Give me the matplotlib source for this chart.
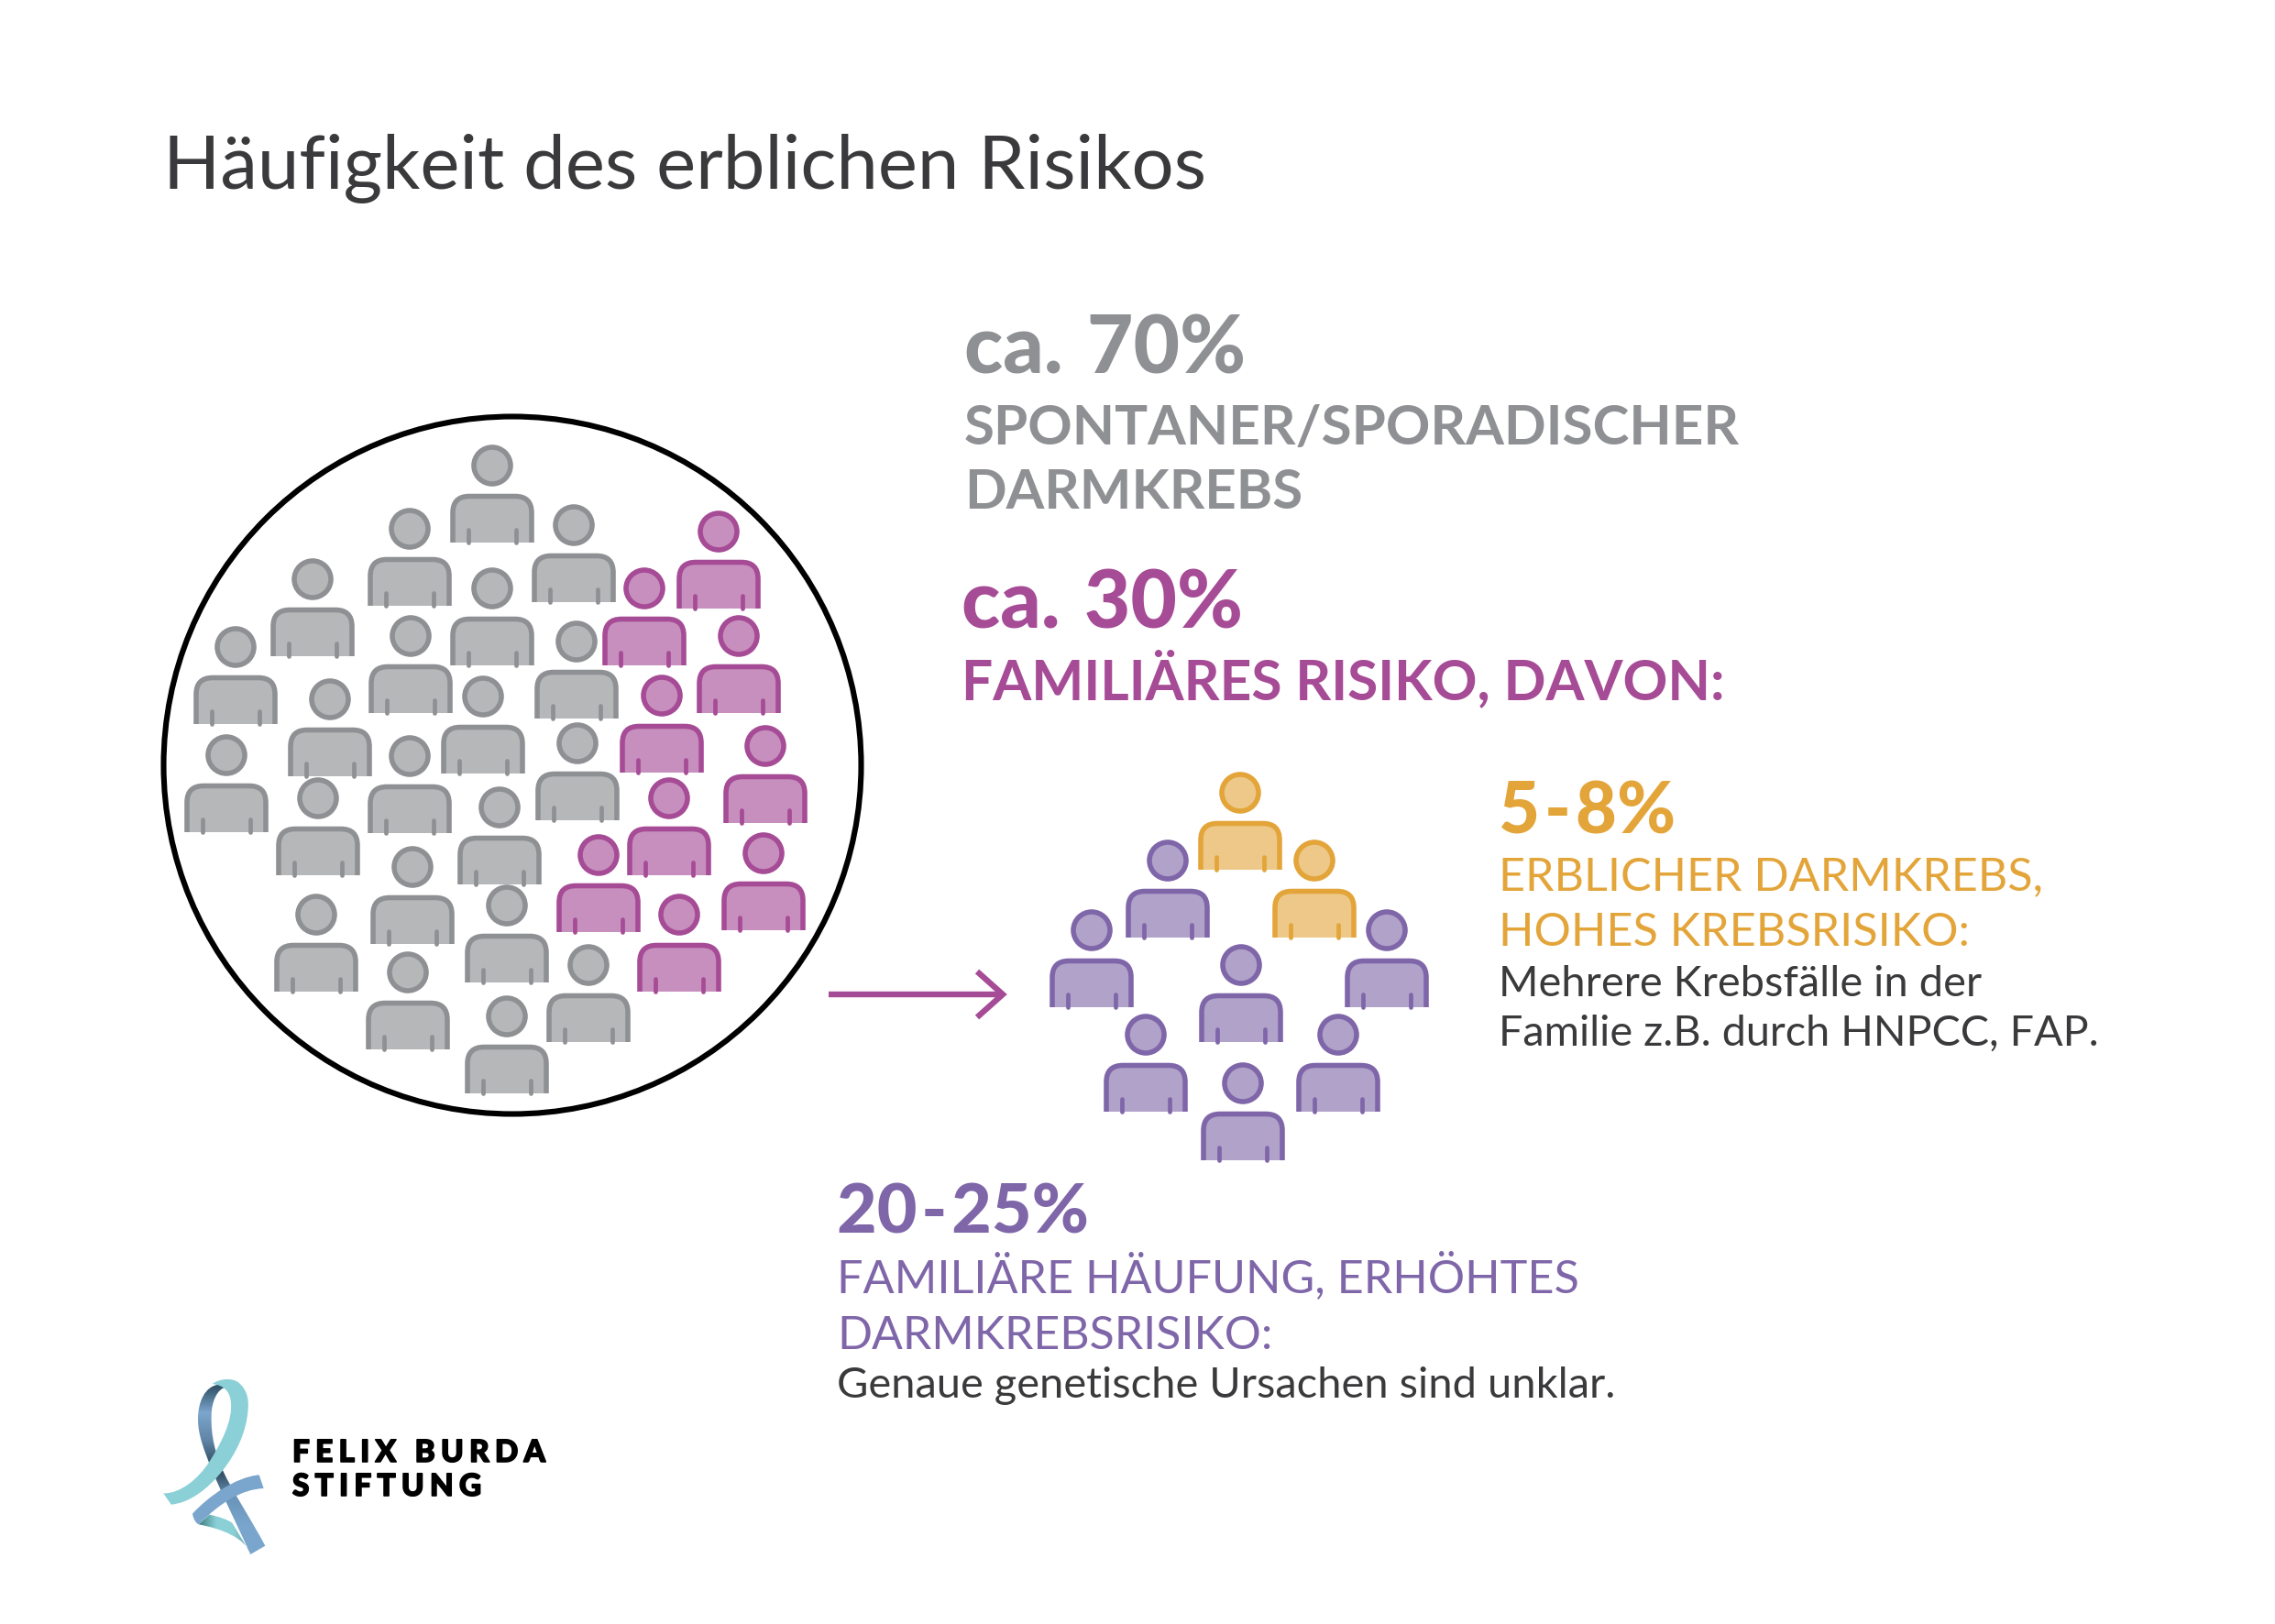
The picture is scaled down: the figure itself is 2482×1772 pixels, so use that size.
import matplotlib
matplotlib.use("Agg")
import matplotlib.pyplot as plt
import matplotlib.patheffects as pe
from matplotlib.patches import Circle, PathPatch
from matplotlib.path import Path
import numpy as np

plt.rcParams['font.family'] = ['Lato', 'DejaVu Sans']

# how many of the 30 people have which colour
n_gray = 21
n_pink = 9
n_orange = 2
n_purple = 7

title = "Häufigkeit des erblichen Risikos"
pct_labels = ["ca.\u200a 70%", "ca.\u200a 30%", "5\u200a-\u200a8%", "20\u200a-\u200a25%"]
head_labels = ["SPONTANER/SPORADISCHER", "DARMKREBS", "FAMILIÄRES RISIKO, DAVON:"]
sub_labels = ["ERBLICHER DARMKREBS,", "HOHES KREBSRISIKO:", "FAMILIÄRE HÄUFUNG, ERHÖHTES", "DARMKREBSRISIKO:"]
body_labels = ["Mehrere Krebsfälle in der", "Familie z.B. durch HNPCC, FAP.", "Genaue genetische Ursachen sind unklar."]
logo_labels = ["FELIX BURDA", "STIFTUNG"]

# head centres in pixels
circle_spots = [(537,508),(447,577),(626,573),(341,632),(537,642),(448,694),(629,700),
                (257,706),(360,763),(527,760),(630,811),(247,824),(447,825),(347,871),
                (545,881),(450,946),(553,988),(345,998),(642,1053),(445,1061),(553,1109),
                (784,580),(703,642),(806,694),(722,759),(835,814),(730,871),(653,933),
                (833,931),(741,998)]
cluster_spots = [(1353,865),(1434,939),(1274,939),(1191,1015),(1513,1015),(1354,1053),
                 (1250,1129),(1460,1129),(1356,1182)]

GRAY = ("#b6b7b9", "#8f9093")
PINK = ("#c78fbe", "#a64b95")
ORANGE = ("#edc888", "#e3a53a")
PURPLE = ("#b1a2ca", "#7f66a9")
DARK = "#3a3a3c"

fig = plt.figure(figsize=(24.82, 17.72), dpi=100)
ax = fig.add_axes([0, 0, 1, 1])
ax.set_xlim(0, 2482)
ax.set_ylim(1772, 0)
ax.axis("off")


def person(x, y, colors):
    fill, edge = colors
    c = 18
    top = y + 33.5
    bot = y + 84
    verts = [(x-43, bot), (x-43, top+c), (x-43, top), (x-43+c, top), (x+43-c, top), (x+43, top), (x+43, top+c), (x+43, bot)]
    codes = [Path.MOVETO, Path.LINETO, Path.CURVE3, Path.CURVE3, Path.LINETO, Path.CURVE3, Path.CURVE3, Path.LINETO]
    ax.add_patch(PathPatch(Path(verts, codes), fc=fill, ec="none", zorder=2))
    ax.add_patch(PathPatch(Path(verts, codes), fc="none", ec=edge, lw=4, capstyle="butt", zorder=3))
    for dx in (-26, 26):
        ax.plot([x+dx, x+dx], [bot, bot-14], color=edge, lw=3.4, solid_capstyle="round", zorder=3)
    ax.add_patch(Circle((x, y), 20, fc=fill, ec=edge, lw=4, zorder=3))


def fit_text(x, y, s, end, size, color, weight="normal"):
    # scale the font so that the line ends where it ends in the picture
    t = ax.text(x, y, s, fontsize=size, color=color, weight=weight, va="baseline", ha="left")
    w = t.get_window_extent(fig.canvas.get_renderer()).width
    t.set_fontsize(size * (end - x) / w)
    return t


def bez(points):
    verts = [points[0]]
    codes = [Path.MOVETO]
    for p in points[1:]:
        verts += [p[:2], p[2:4], p[4:6]] if len(p) == 6 else [p]
        codes += [Path.CURVE4] * 3 if len(p) == 6 else [Path.LINETO]
    verts = [(160 + a / 3, 1480 + b / 3) for a, b in verts]
    verts.append(verts[0])
    codes.append(Path.CLOSEPOLY)
    return Path(verts, codes)


def gradient(path, stops, vertical=True, zorder=2):
    colors = matplotlib.colors.LinearSegmentedColormap.from_list("g", stops)
    xs, ys = path.vertices[:, 0], path.vertices[:, 1]
    g = np.linspace(0, 1, 256)
    g = g[:, None] if vertical else g[None, :]
    im = ax.imshow(g, cmap=colors, extent=(xs.min(), xs.max(), ys.max(), ys.min()), aspect="auto", zorder=zorder)
    im.set_clip_path(PathPatch(path, transform=ax.transData))


# big circle with people
ax.add_patch(Circle((559, 835), 380.5, fc="none", ec="black", lw=4.4, zorder=1))
for i, (x, y) in enumerate(circle_spots):
    person(x, y, GRAY if i < n_gray else PINK)
for i, (x, y) in enumerate(cluster_spots):
    person(x, y, ORANGE if i < n_orange else PURPLE)

# arrow
ax.plot([904, 1094], [1085, 1085], color=PINK[1], lw=4.6, solid_capstyle="butt", zorder=2)
ax.plot([1066, 1094, 1066], [1060, 1085, 1110], color=PINK[1], lw=4.6, solid_joinstyle="miter", solid_capstyle="butt", zorder=2)

# texts
fit_text(178, 206, title, 1316, 54, DARK)
fit_text(1052, 407, pct_labels[0], 1359, 58, GRAY[1], "black")
fit_text(1052, 485, head_labels[0], 1898, 40, GRAY[1], "bold")
fit_text(1052, 555, head_labels[1], 1421, 40, GRAY[1], "bold")
fit_text(1049, 686, pct_labels[1], 1356, 58, PINK[1], "black")
fit_text(1049, 763, head_labels[2], 1882, 40, PINK[1], "bold")
fit_text(1635, 909, pct_labels[2], 1828, 52, ORANGE[1], "black")
fit_text(1635, 971, sub_labels[0], 2230, 36, ORANGE[1])
fit_text(1635, 1032, sub_labels[1], 2150, 36, ORANGE[1])
fit_text(1635, 1087, body_labels[0], 2164, 34, DARK)
fit_text(1635, 1141, body_labels[1], 2291, 34, DARK)
fit_text(913, 1346, pct_labels[3], 1188, 52, PURPLE[1], "black")
fit_text(913, 1410, sub_labels[2], 1725, 36, PURPLE[1])
fit_text(913, 1472, sub_labels[3], 1388, 36, PURPLE[1])
fit_text(913, 1525, body_labels[2], 1763, 34, DARK)

# logo ribbon, numbers are in zoomed logo units
small = bez([(170,550),(205,518),(240,525,265,535,280,545),(340,645),(320,595,250,565,170,550)])
dark = bez([(240,92),(190,95,168,150,168,205),(168,260,190,310,205,350),(240,440,300,560,340,648),
            (388,620),(340,530,280,440,250,375),(225,320,210,260,212,195),(212,150,230,105,262,100)])
teal = bez([(55,448),(110,450,170,400,205,345),(240,290,285,210,275,145),(270,110,250,95,215,90),
            (240,72,280,70,300,85),(325,105,335,135,332,170),(328,250,290,320,250,372),(200,435,140,480,80,485)])
strap = bez([(150,515),(200,460,290,395,368,388),(383,432),(310,435,240,480,170,550),(160,545,152,530,150,515)])
gradient(small, ["#3d7f82", "#8ad0d6", "#8ad0d6", "#5f9aa0"], vertical=False, zorder=2)
gradient(dark, ["#2b4a5e", "#7ba6cd", "#5f84a5", "#2a4456", "#6a94b8", "#7aa5cd", "#7aa5cd"], zorder=3)
ax.add_patch(PathPatch(teal, fc="#8ad0d6", ec="none", zorder=4))
ax.add_patch(PathPatch(strap, fc="#7aa5cd", ec="none", zorder=5))

# letter spaced logo text
gap = "\u2009\u200a"
for s, y in zip(logo_labels, (1595, 1632)):
    t = ax.text(319, y, gap.join(s), fontsize=24, color="black", weight="black", va="baseline")
    t.set_path_effects([pe.withStroke(linewidth=1.2, foreground="black")])

fig.savefig("out.png", dpi=100, facecolor="white")
